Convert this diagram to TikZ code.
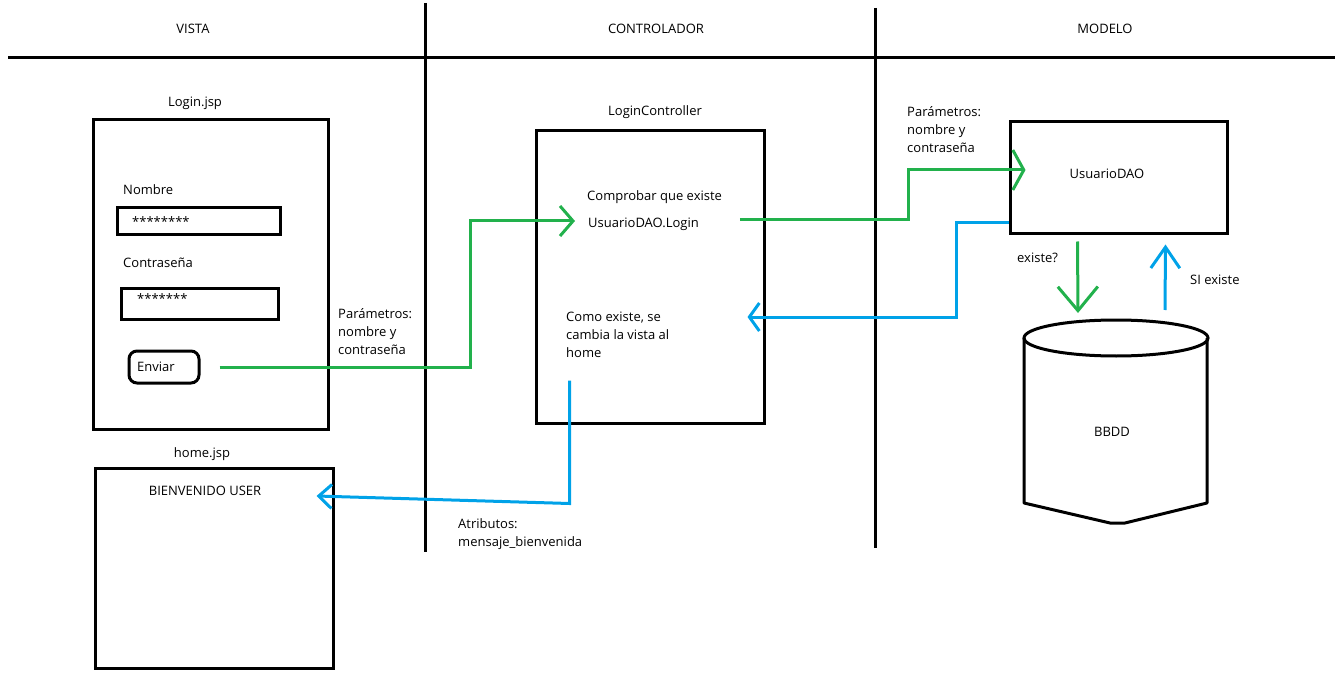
\documentclass[tikz,border=0pt]{standalone}
\usepackage{fontspec}
\setmainfont{Open Sans}
\usepackage[HTML]{xcolor}
\usetikzlibrary{positioning, arrows.meta}
\definecolor{paintgreen}{HTML}{22B14C}
\definecolor{paintblue}{HTML}{00A2E8}

\begin{document}
\begin{tikzpicture}[x=1pt, y=-1pt, inner sep=0pt,
  font=\fontsize{13}{18}\selectfont,
  box/.style={draw, line width=3pt},
  sep/.style={line width=3pt},
  gline/.style={paintgreen, line width=3pt},
  bline/.style={paintblue, line width=3pt},
  barb/.style 2 args={-{Straight Barb[length=#1, width=#2]}},
  txt/.style={anchor=west, align=left}]
\useasboundingbox (0,0) rectangle (1335,676);

% layer headers and separators
\node (vista) at (193,29) {VISTA};
\node (controlador) at (656,29) {CONTROLADOR};
\node (modelo) at (1105,29) {MODELO};
\draw[sep] (8,58) -- (1335,58);
\draw[sep] (425,3) -- (425,552);
\draw[sep] (875,8) -- (875,548);

% Login.jsp
\node (loginlbl) at (195,103) {Login.jsp};
\node[box, minimum width=235pt, minimum height=309pt] (loginbox) at (210.5,274.5) {};
\node[txt] (nombre) at (123,190) {Nombre};
\node[box, minimum width=163pt, minimum height=27pt] (campo1) at (198.5,221.5) {};
\node[txt] (estrellas1) at (132,222) {********};
\node[txt] (contrasena) at (123,263) {Contraseña};
\node[box, minimum width=157pt, minimum height=31pt] (campo2) at (199.5,303.5) {};
\node[txt] (estrellas2) at (137,299) {*******};
\node[box, rounded corners=8pt, minimum width=70pt, minimum height=32pt] (enviar) at (164,367) {};
\node[txt] (enviartxt) at (137,367) {Enviar};
\node[txt] (param1) at (338,332) {Parámetros:\\nombre y\\contraseña};

% home.jsp
\node (homelbl) at (202,454) {home.jsp};
\node[box, minimum width=238pt, minimum height=200pt] (homebox) at (214,568) {};
\node (bienvenido) at (205,491) {BIENVENIDO USER};

% LoginController
\node (ctrllbl) at (655,112) {LoginController};
\node[box, minimum width=228pt, minimum height=292pt] (ctrlbox) at (650,277) {};
\node[txt] (comprobar) at (587,197) {Comprobar que existe};
\node[txt] (udlogin) at (588,224) {UsuarioDAO.Login};
\node[txt] (comoexiste) at (566,335) {Como existe, se\\cambia la vista al\\home};
\node[txt] (atributos) at (458,534) {Atributos:\\mensaje\_bienvenida};

% UsuarioDAO and BBDD
\node[box, minimum width=217pt, minimum height=112pt] (daobox) at (1118.5,178) {};
\node (daotxt) at (1107,174) {UsuarioDAO};
\node[txt] (param2) at (907,130) {Parámetros:\\nombre y\\contraseña};
\node[txt] (existe) at (1017,258) {existe?};
\node[txt] (siexiste) at (1190,280) {SI existe};
\draw[sep] (1116,338) ellipse [x radius=92, y radius=18];
\draw[sep, line join=round] (1024,338) -- (1024,503) -- (1110,523) -- (1125,523) -- (1207,503) -- (1207,338);
\coordinate (dbtop) at (1116,320);
\node (bbdd) at (1112,432) {BBDD};

% request flow (green)
\draw[gline, barb={13pt}{30pt}] ([xshift=19pt]enviar.east) -- ++(251,0) |- ([xshift=-13pt,yshift=3pt]udlogin.west);
\draw[gline, barb={11pt}{40pt}] ([xshift=41pt,yshift=4pt]udlogin.east) -- ++(169,0) |- ([xshift=17pt,yshift=8pt]daobox.west);
\draw[gline, barb={24pt}{40pt}] ([xshift=-41pt,yshift=-6pt]daobox.south) -- ([xshift=-38pt,yshift=7pt]dbtop);

% response flow (blue)
\draw[bline, barb={21pt}{29pt}] ([xshift=49pt,yshift=10pt]dbtop) -- ([xshift=47pt,yshift=-9pt]daobox.south);
\draw[bline, barb={10pt}{28pt}] ([yshift=13pt]daobox.south west) -- ++(-52,0) |- ([xshift=-18pt,yshift=-40pt]ctrlbox.east);
\draw[bline, barb={13pt}{24pt}] ([xshift=35pt,yshift=44pt]ctrlbox.south west) -- ++(0,123) -- ([xshift=-18pt,yshift=72pt]homebox.east);
\end{tikzpicture}
\end{document}
